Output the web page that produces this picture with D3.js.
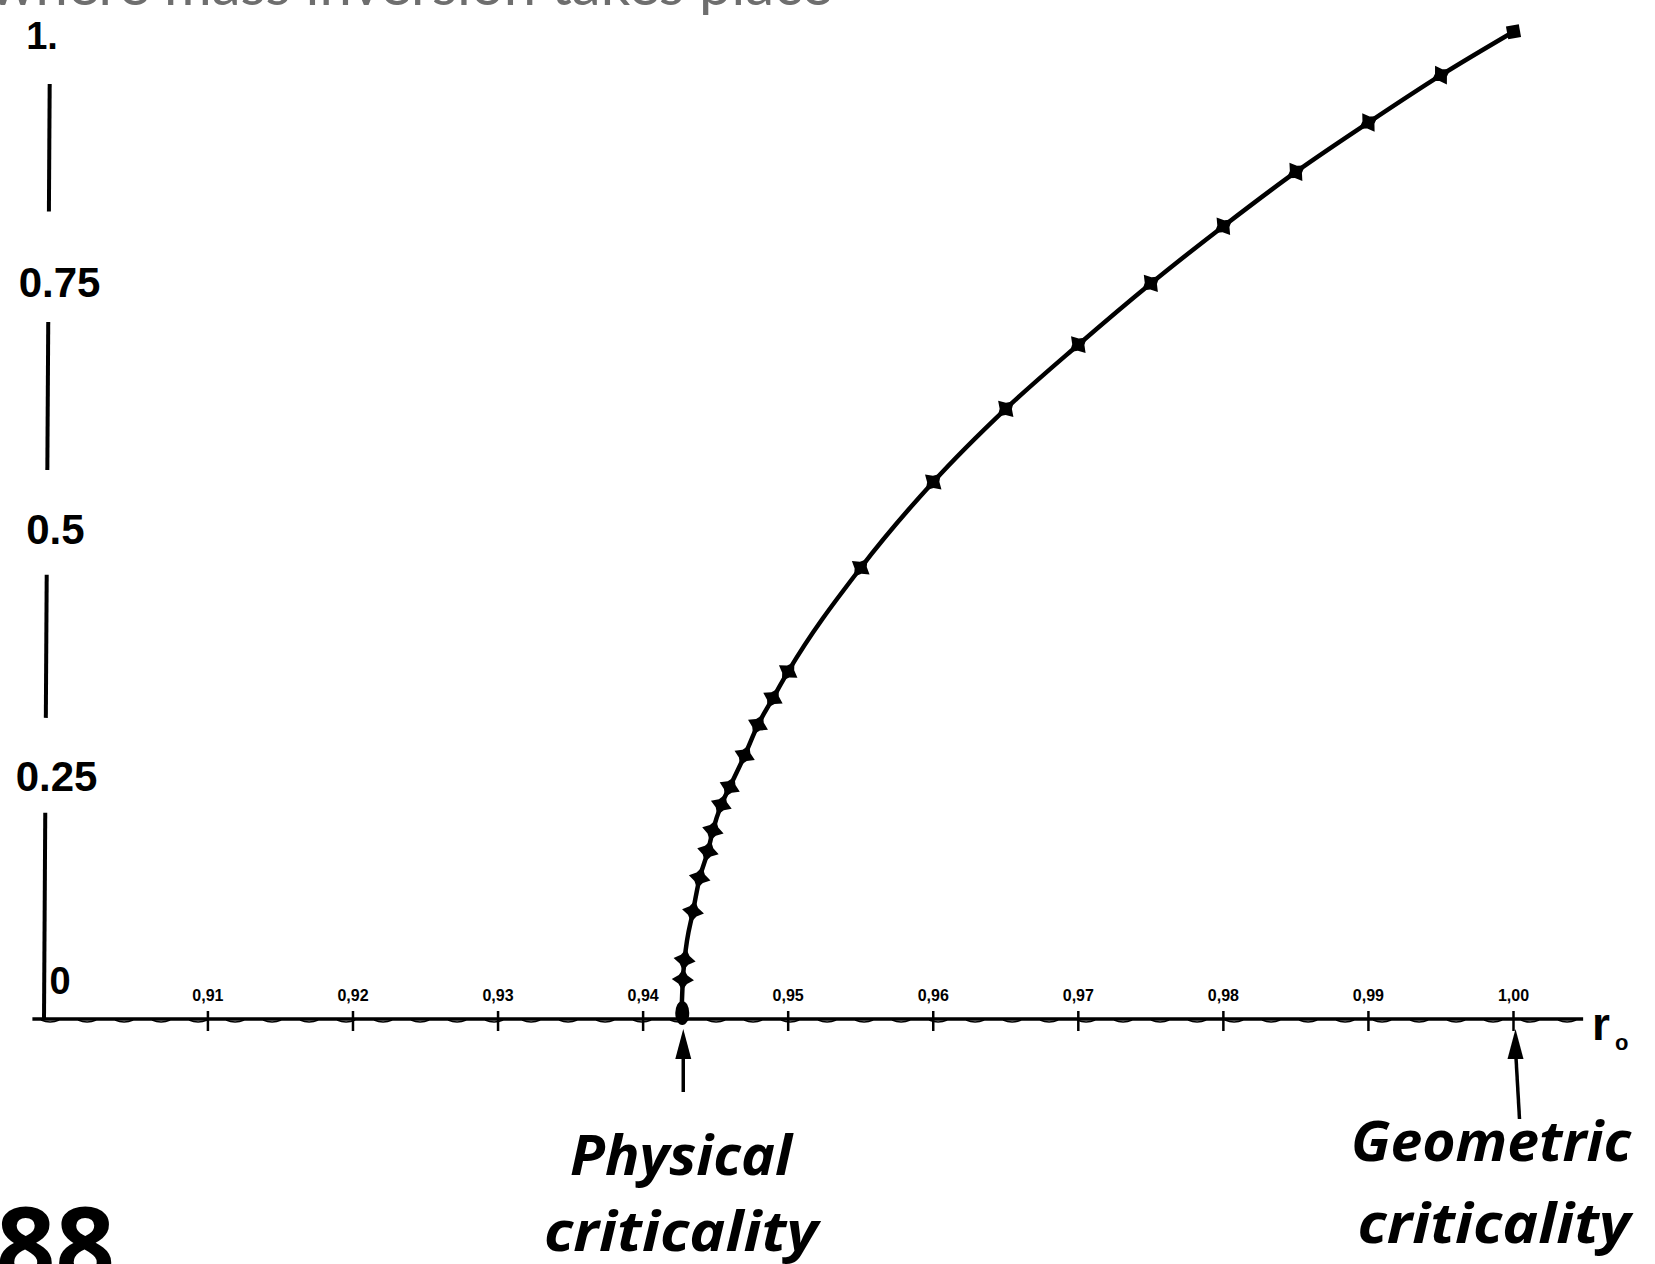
<!doctype html>
<html>
<head>
<meta charset="utf-8">
<title>criticality</title>
<script src="https://d3js.org/d3.v7.min.js"></script>
<style>
  body { margin: 0; background: #fff; }
  svg { display: block; }
</style>
</head>
<body>
<div id="chart"></div>
<script>
// data
var rValues = [0.94263, 0.94274, 0.94286, 0.94344, 0.94390, 0.94447, 0.94481, 0.94539,
               0.94597, 0.94700, 0.94792, 0.94895, 0.950, 0.955, 0.960, 0.965, 0.970,
               0.975, 0.980, 0.985, 0.990, 0.995, 1.000];
var kValues = [0, 0.040, 0.060, 0.109, 0.143, 0.170, 0.191, 0.217, 0.235, 0.267, 0.298,
               0.325, 0.352, 0.457, 0.544, 0.618, 0.683, 0.745, 0.803, 0.858, 0.908,
               0.956, 1.000];
var xTicks = [0.91, 0.92, 0.93, 0.94, 0.95, 0.96, 0.97, 0.98, 0.99, 1.00];
var xTickLabels = ["0,91", "0,92", "0,93", "0,94", "0,95", "0,96", "0,97", "0,98", "0,99", "1,00"];
var yTicks = [0, 0.25, 0.5, 0.75, 1];
var yTickLabels = ["0", "0.25", "0.5", "0.75", "1."];
var physicalR = 0.94263, geometricR = 1.00;

var width = 1655, height = 1264;

var svg = d3.select("#chart").append("svg")
    .attr("width", width)
    .attr("height", height)
    .style("background", "#fff");

// scales
var x = d3.scaleLinear().domain([0.8987, 1.00]).range([44, 1513.5]);
var y = d3.scaleLinear().domain([0, 1]).range([1019, 31.7]);

// title, cut off at the top of the slide
svg.append("text")
    .attr("x", -10).attr("y", 5)
    .attr("font-family", "Lato, 'Noto Sans', sans-serif")
    .attr("font-size", 58)
    .attr("fill", "#6e6e6e")
    .text("where mass inversion takes place");

// x axis
svg.append("line")
    .attr("x1", x(0.8979)).attr("x2", x(1.0048))
    .attr("y1", y(0)).attr("y2", y(0))
    .attr("stroke", "#000").attr("stroke-width", 3.5);

// small scallops hanging under the scanned axis line
var bumpX = d3.range(x(0.8985), x(1.0035), 37);
svg.append("path")
    .attr("d", bumpX.map(function(bx){
      return "M" + bx + "," + (y(0) + 1) + " q9,4 18,0";
    }).join(" "))
    .attr("fill", "none")
    .attr("stroke", "#000").attr("stroke-width", 1.6);

svg.selectAll(".xtick").data(xTicks).enter().append("line")
    .attr("class", "xtick")
    .attr("x1", function(d){ return x(d); }).attr("x2", function(d){ return x(d); })
    .attr("y1", y(0) - 8).attr("y2", y(0) + 12)
    .attr("stroke", "#000").attr("stroke-width", 2.5);

svg.selectAll(".xlab").data(xTicks).enter().append("text")
    .attr("class", "xlab")
    .attr("x", function(d){ return x(d); })
    .attr("y", y(0) - 18)
    .attr("text-anchor", "middle")
    .attr("font-family", "'Liberation Sans', Arial, sans-serif")
    .attr("font-weight", "bold")
    .attr("font-size", 16)
    .text(function(d, i){ return xTickLabels[i]; });

// broken y axis (gaps where the labels sit)
var ySegs = [[0, 0.209], [0.305, 0.45], [0.556, 0.706], [0.818, 0.947]];
svg.selectAll(".yseg").data(ySegs).enter().append("line")
    .attr("class", "yseg")
    .attr("x1", function(d){ return x(0.8987) + d[0] * 6; })
    .attr("x2", function(d){ return x(0.8987) + d[1] * 6; })
    .attr("y1", function(d){ return y(d[0]); })
    .attr("y2", function(d){ return y(d[1]); })
    .attr("stroke", "#000").attr("stroke-width", 4);

var yLabX = [60, 56.5, 55.4, 59.6, 42];
svg.selectAll(".ylab").data(yTicks).enter().append("text")
    .attr("class", "ylab")
    .attr("x", function(d, i){ return yLabX[i]; })
    .attr("y", function(d){ return d === 0 ? y(0) - 38 : y(d) + 4; })
    .attr("dominant-baseline", "central")
    .attr("text-anchor", "middle")
    .attr("font-family", "'Liberation Sans', Arial, sans-serif")
    .attr("font-weight", "bold")
    .attr("font-size", function(d){ return d === 1 ? 38 : (d === 0 ? 38 : 42); })
    .text(function(d, i){ return yTickLabels[i]; });

// axis name r0
svg.append("text")
    .attr("x", 1592).attr("y", 1040)
    .attr("font-family", "'Liberation Sans', Arial, sans-serif")
    .attr("font-weight", "bold")
    .attr("font-size", 46)
    .text("r");
svg.append("text")
    .attr("x", 1615).attr("y", 1050)
    .attr("font-family", "'Liberation Sans', Arial, sans-serif")
    .attr("font-weight", "bold")
    .attr("font-size", 22)
    .text("o");

// curve
var pts = rValues.map(function(r, i){ return [r, kValues[i]]; });
var line = d3.line()
    .x(function(d){ return x(d[0]); })
    .y(function(d){ return y(d[1]); })
    .curve(d3.curveMonotoneX);

svg.append("path")
    .datum(pts)
    .attr("d", line)
    .attr("fill", "none")
    .attr("stroke", "#000")
    .attr("stroke-width", 4.5);

// blob where the curve leaves the axis
svg.append("ellipse")
    .attr("cx", x(physicalR) + 1).attr("cy", y(0) - 6)
    .attr("rx", 7).attr("ry", 12)
    .attr("fill", "#000");

// 4-point star markers
var star4 = {
  draw: function(ctx, size) {
    var r = Math.sqrt(size) * 0.75, ri = r * 0.55;
    for (var k = 0; k < 8; k++) {
      var a = k * Math.PI / 4, rad = k % 2 ? ri : r;
      var px = Math.cos(a) * rad, py = Math.sin(a) * rad;
      if (k === 0) ctx.moveTo(px, py); else ctx.lineTo(px, py);
    }
    ctx.closePath();
  }
};

function slopeAngle(i) {
  var a = pts[Math.max(0, i - 1)], b = pts[Math.min(pts.length - 1, i + 1)];
  return Math.atan2(y(b[1]) - y(a[1]), x(b[0]) - x(a[0])) * 180 / Math.PI;
}

svg.selectAll(".mark").data(pts.slice(1, pts.length - 1)).enter().append("path")
    .attr("class", "mark")
    .attr("d", d3.symbol().type(star4).size(220))
    .attr("transform", function(d, i){
      return "translate(" + x(d[0]) + "," + y(d[1]) + ") rotate(" + slopeAngle(i + 1) + ")";
    })
    .attr("fill", "#000");

var last = pts[pts.length - 1];
svg.append("path")
    .attr("d", d3.symbol().type(d3.symbolSquare).size(170))
    .attr("transform", "translate(" + x(last[0]) + "," + y(last[1]) + ") rotate(-10)")
    .attr("fill", "#000");

// arrows
function arrow(xTip, yTip, xTail, yTail) {
  var g = svg.append("g");
  g.append("line")
      .attr("x1", xTip).attr("y1", yTip + 20)
      .attr("x2", xTail).attr("y2", yTail)
      .attr("stroke", "#000").attr("stroke-width", 3.5);
  g.append("path")
      .attr("d", "M" + xTip + "," + yTip + " L" + (xTip - 8) + "," + (yTip + 30) +
                 " L" + (xTip + 8) + "," + (yTip + 30) + " Z")
      .attr("fill", "#000");
}
arrow(x(physicalR) + 2, 1029, x(physicalR) + 2, 1092);
arrow(x(geometricR) + 2, 1029, x(geometricR) + 6, 1119);

// annotations
var notes = [
  {t: "Physical",    cx: 681,  y: 1175, w: 222},
  {t: "criticality", cx: 681,  y: 1251, w: 274},
  {t: "Geometric",   cx: 1491, y: 1161, w: 280},
  {t: "criticality", cx: 1494, y: 1243, w: 273}
];
svg.selectAll(".note").data(notes).enter().append("text")
    .attr("class", "note")
    .attr("x", function(d){ return d.cx; })
    .attr("y", function(d){ return d.y; })
    .attr("text-anchor", "middle")
    .attr("font-family", "'Open Sans', 'Noto Sans', sans-serif")
    .attr("font-weight", "bold")
    .attr("font-style", "italic")
    .attr("font-size", 56)
    .attr("textLength", function(d){ return d.w; })
    .attr("lengthAdjust", "spacingAndGlyphs")
    .text(function(d){ return d.t; });

// slide number, cut off at the bottom
svg.append("text")
    .attr("x", -4).attr("y", 1282)
    .attr("font-family", "'Noto Sans', sans-serif")
    .attr("font-weight", "bold")
    .attr("font-size", 104)
    .text("88");
</script>
</body>
</html>
